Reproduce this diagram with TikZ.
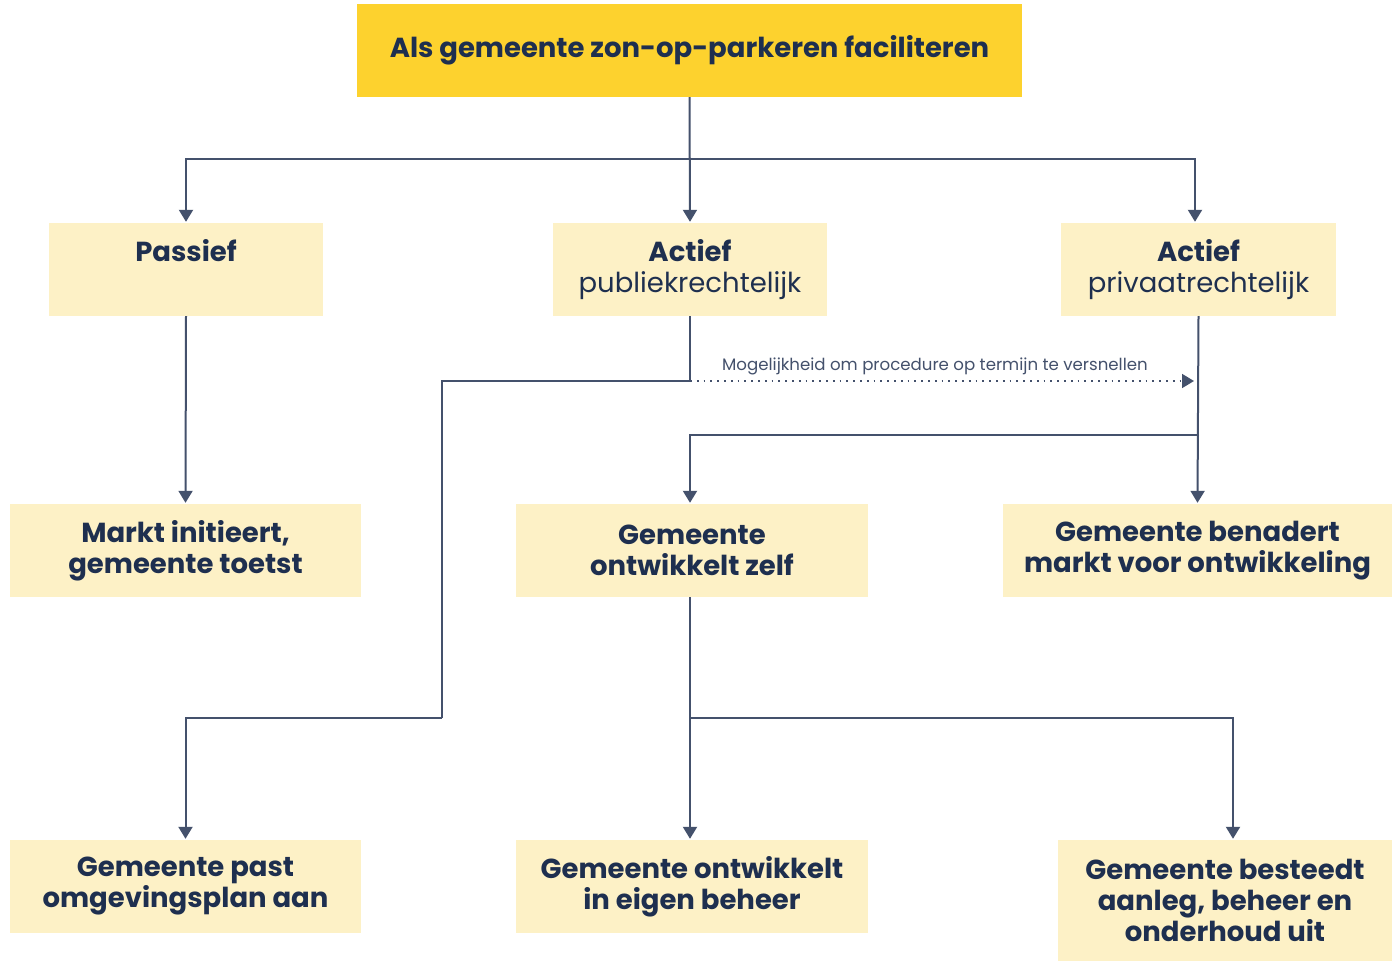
\documentclass[tikz,border=0pt]{standalone}
\usepackage{fontspec}
\setmainfont{Poppins}
\usetikzlibrary{arrows.meta,calc}
\definecolor{navy}{HTML}{1E2F4F}
\definecolor{linec}{HTML}{44516C}
\definecolor{titlefill}{HTML}{FDD22E}
\definecolor{boxfill}{HTML}{FDF1C6}
\begin{document}
\begin{tikzpicture}[x=1pt,y=-1pt,
  box/.style={rectangle,fill=boxfill,text=navy,align=center,inner sep=0pt,font=\fontsize{27.5}{31}\selectfont},
  bbox/.style={box,font=\bfseries\fontsize{27.5}{31}\selectfont},
  conn/.style={draw=linec,line width=2pt},
  arr/.style={conn,-{Triangle[width=14pt,length=12pt]},shorten >=1pt},
  dotarr/.style={draw=linec,line width=1.8pt,dash pattern=on 1.8pt off 5pt,-{Triangle[width=14pt,length=12pt]}}
]
\useasboundingbox (0,0) rectangle (1392,961);
\fill[white] (0,0) rectangle (1392,961);
% nodes
\node[box,fill=titlefill,minimum width=665pt,minimum height=93pt,font=\bfseries\fontsize{27.5}{30}\selectfont] (top) at (689.5,50.5) {Als gemeente zon-op-parkeren faciliteren};
\node[box,minimum width=274pt,minimum height=93pt] (passief) at (186,269.5) {\textbf{Passief}\\\phantom{p}};
\node[box,minimum width=274pt,minimum height=93pt] (pub) at (690,269.5) {\textbf{Actief}\\publiekrechtelijk};
\node[box,minimum width=275pt,minimum height=93pt] (priv) at (1198.5,269.5) {\textbf{Actief}\\privaatrechtelijk};
\node[bbox,minimum width=351pt,minimum height=93pt] (markt) at (185.5,550.5) {Markt initieert,\\gemeente toetst};
\node[bbox,minimum width=352pt,minimum height=93pt] (zelf) at (692,550.5) {Gemeente\\ontwikkelt zelf};
\node[bbox,minimum width=389pt,minimum height=93pt] (benadert) at (1197.5,550.5) {Gemeente benadert\\markt voor ontwikkeling};
\node[bbox,minimum width=351pt,minimum height=93pt] (past) at (185.5,886.5) {Gemeente past\\omgevingsplan aan};
\node[bbox,minimum width=352pt,minimum height=93pt] (eigen) at (692,886.5) {Gemeente ontwikkelt\\in eigen beheer};
\node[bbox,minimum width=334pt,minimum height=121pt] (besteedt) at (1225,900.5) {Gemeente besteedt\\aanleg, beheer en\\onderhoud uit};
% junctions
\coordinate (j1) at (690,159);
\coordinate (j2) at (690,381);
\coordinate (j3) at (442,381);
\coordinate (j4) at (442,718);
\coordinate (j5) at (1199,435);
\coordinate (j6) at (690,718);
\coordinate (j7) at (1233,718);
\coordinate (dotend) at (1194,381);
% connectors
\draw[arr] (top.south) -- (pub.north);
\draw[arr] (j1) -| (passief.north);
\draw[arr] (j1) -| ([xshift=-3.5pt]priv.north);
\draw[arr] (passief.south) -- (markt.north);
\draw[conn] (pub.south) -- (j2) -- (j3) -- (j4);
\draw[arr] (j4) -| (past.north);
\draw[dotarr] (j2) -- (dotend);
\node[text=linec,font=\fontsize{16.6}{20}\selectfont,anchor=base] (lbl) at (935,370) {Mogelijkheid om procedure op termijn te versnellen};
\draw[arr] (priv.south) -- (benadert.north);
\draw[arr] (j5) -| ([xshift=-2pt]zelf.north);
\draw[arr] ([xshift=-2pt]zelf.south) -- ([xshift=-2pt]eigen.north);
\draw[arr] (j6) -| (j7) -- ([xshift=8pt]besteedt.north);
\end{tikzpicture}
\end{document}
